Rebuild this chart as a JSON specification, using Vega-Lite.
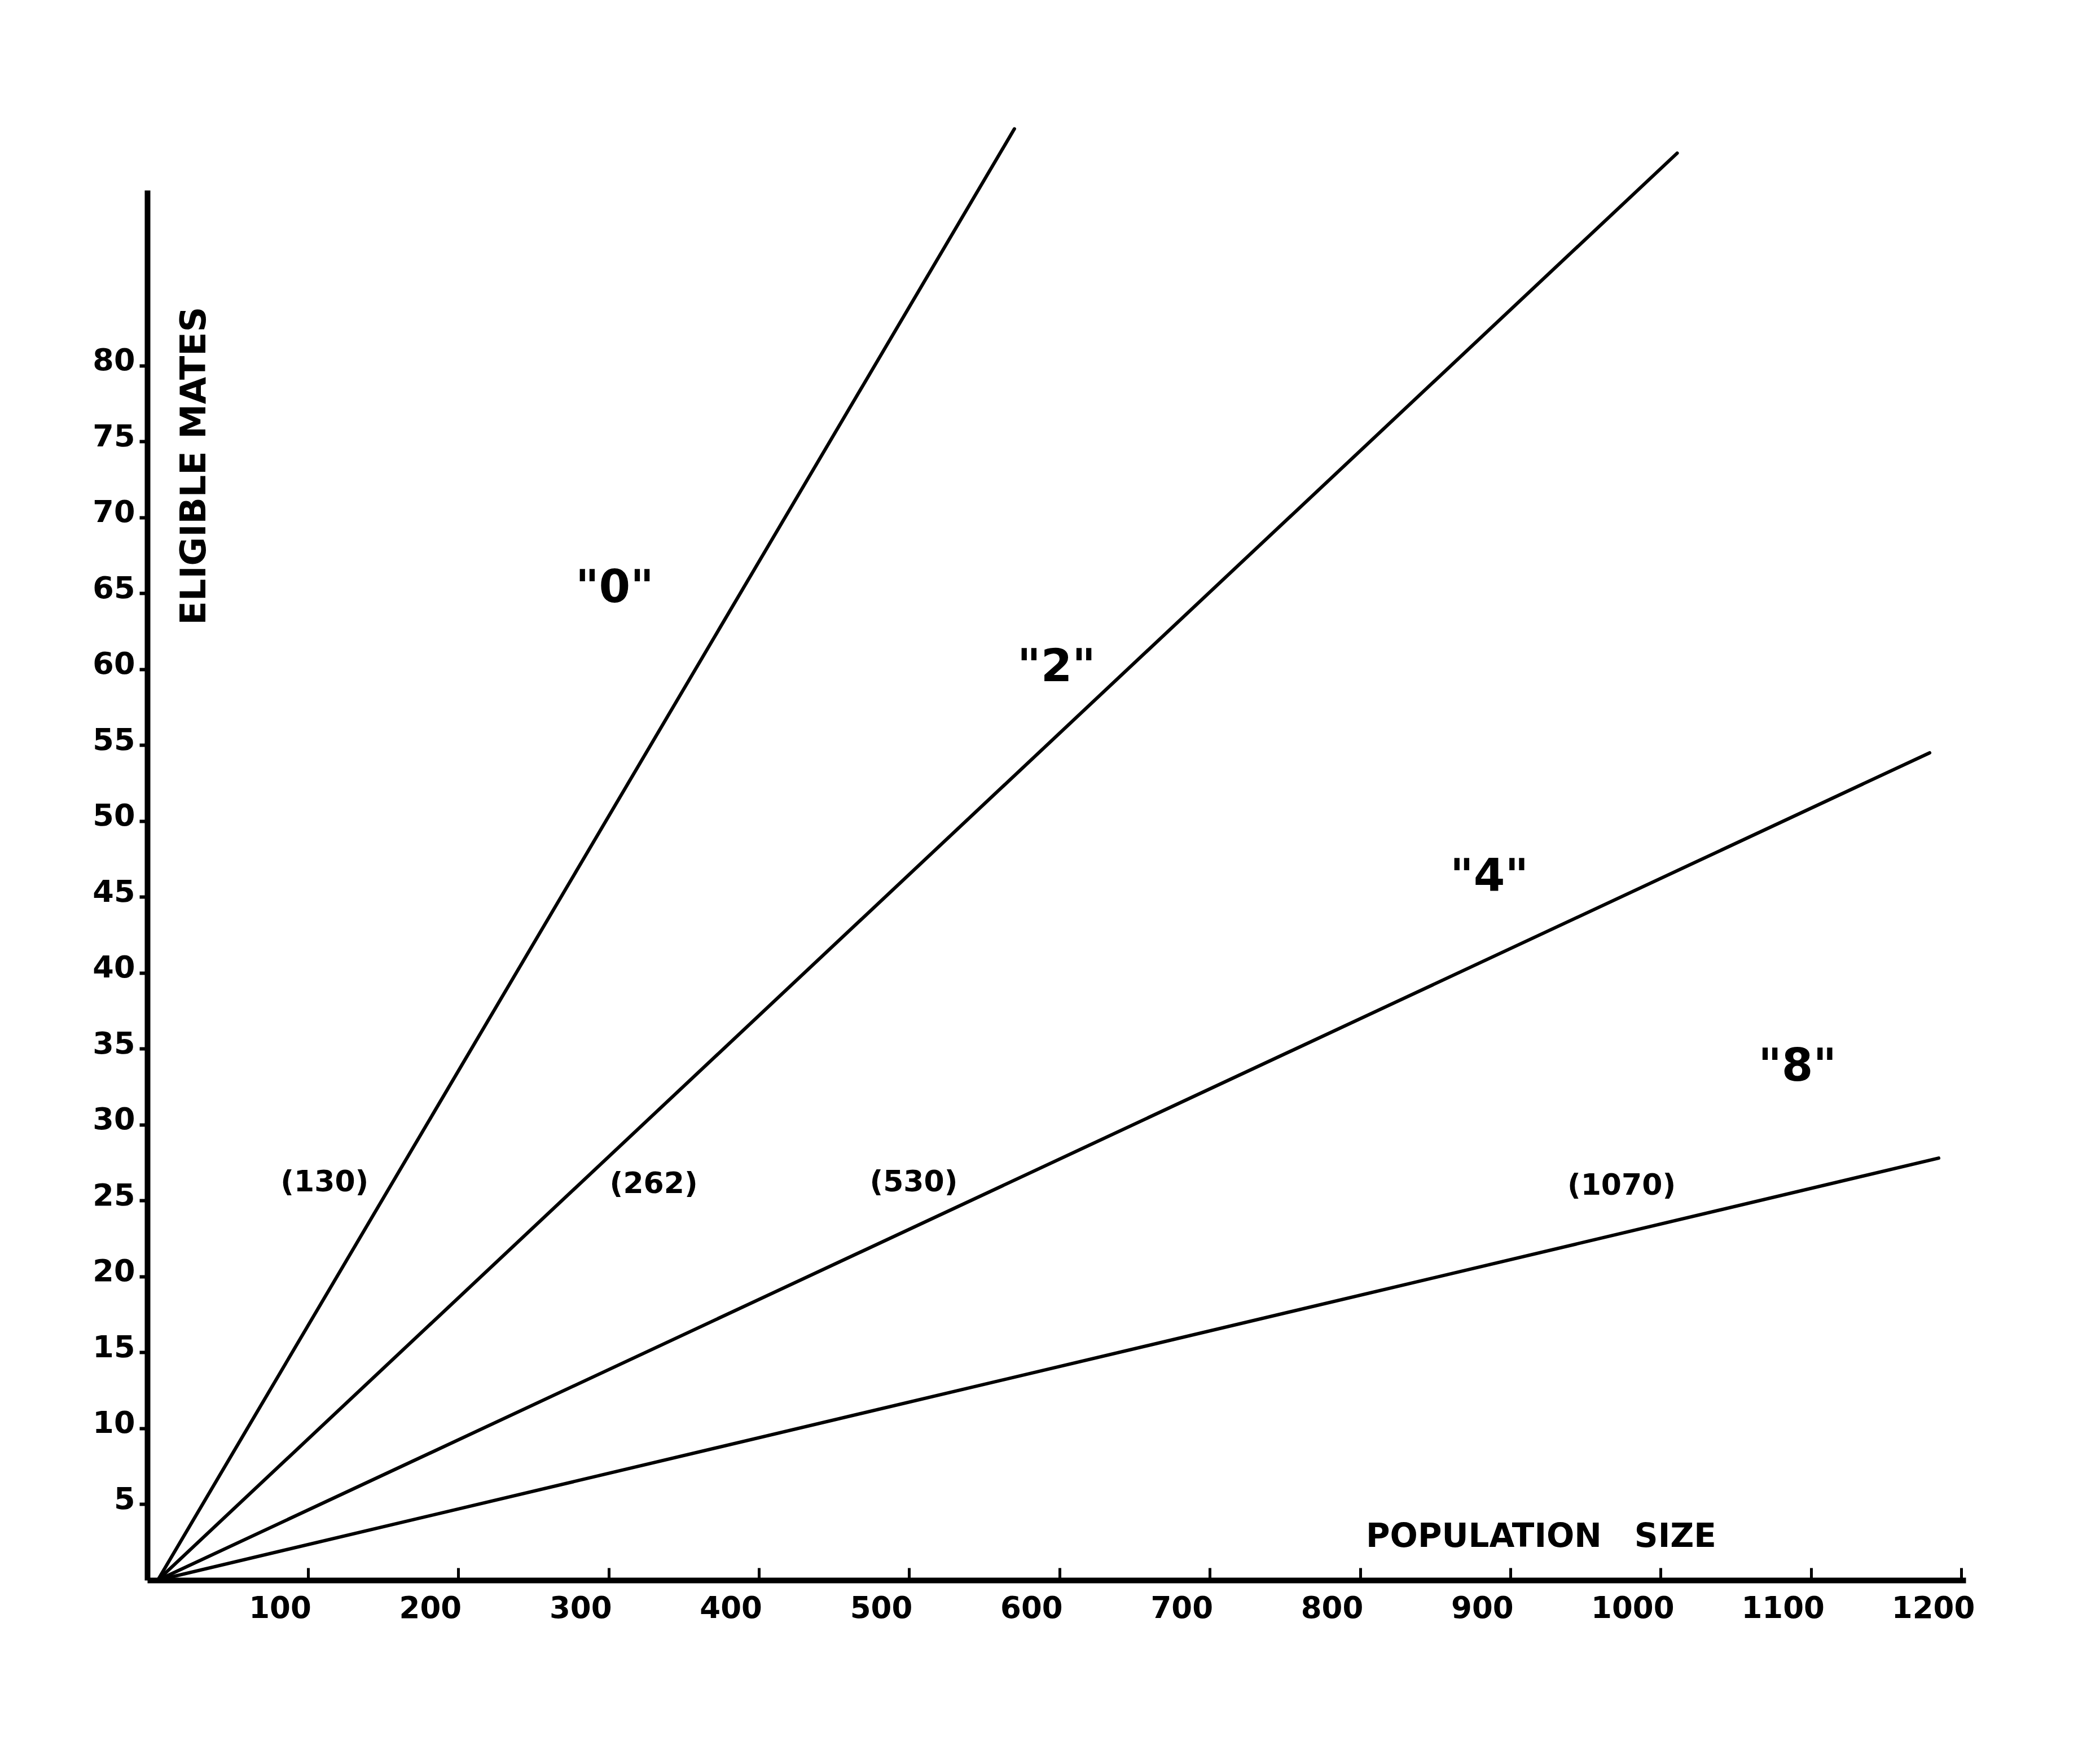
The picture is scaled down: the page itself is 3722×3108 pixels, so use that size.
{
  "$schema": "https://vega.github.io/schema/vega-lite/v6.json",
  "width": 3223,
  "height": 2463,
  "autosize": "none",
  "padding": {"left": 261, "top": 337, "right": 238, "bottom": 308},
  "background": "white",
  "config": {"view": {"stroke": null}, "font": "DejaVu Sans"},
  "datasets": {
    "lines": [
      {"series": "0", "population": 0, "mates": 0},
      {"series": "0", "population": 570, "mates": 95.6},
      {"series": "2", "population": 0, "mates": 0},
      {"series": "2", "population": 1011, "mates": 94.0},
      {"series": "4", "population": 0, "mates": 0},
      {"series": "4", "population": 1179, "mates": 54.5},
      {"series": "8", "population": 0, "mates": 0},
      {"series": "8", "population": 1185, "mates": 27.8}
    ],
    "curveLabels": [
      {"label": "\"0\"", "population": 304, "mates": 65.3},
      {"label": "\"2\"", "population": 598, "mates": 60.1},
      {"label": "\"4\"", "population": 886, "mates": 46.3},
      {"label": "\"8\"", "population": 1091, "mates": 33.8}
    ],
    "crossLabels": [
      {"label": "(130)", "population": 111, "mates": 26.2},
      {"label": "(262)", "population": 330, "mates": 26.1},
      {"label": "(530)", "population": 503, "mates": 26.2},
      {"label": "(1070)", "population": 974, "mates": 26.0}
    ]
  },
  "layer": [
    {
      "data": {"name": "lines"},
      "mark": {"type": "line", "color": "black", "clip": false, "strokeCap": "round"},
      "encoding": {
        "x": {
          "field": "population",
          "type": "quantitative",
          "scale": {"domain": [-7, 1203], "nice": false, "zero": false},
          "axis": {
            "values": [100, 200, 300, 400, 500, 600, 700, 800, 900, 1000, 1100, 1200],
            "format": "d",
            "grid": false,
            "domainColor": "black",
            "domainWidth": 10,
            "tickColor": "black",
            "tickWidth": 5,
            "tickSize": -22,
            "labelPadding": 46,
            "labelOffset": -50,
            "labelFont": "DejaVu Sans",
            "labelFontWeight": "bold",
            "labelFontSize": 53,
            "labelColor": "black",
            "labelFlush": false,
            "labelOverlap": false,
            "title": "POPULATION\u2003SIZE",
            "titleX": 2470,
            "titleY": -77,
            "titleAlign": "center",
            "titleBaseline": "middle",
            "titleFont": "DejaVu Sans",
            "titleFontSize": 58,
            "titleFontWeight": "bold",
            "titleColor": "black"
          }
        },
        "y": {
          "field": "mates",
          "type": "quantitative",
          "scale": {"domain": [0, 91.56], "nice": false, "zero": false},
          "axis": {
            "values": [5, 10, 15, 20, 25, 30, 35, 40, 45, 50, 55, 60, 65, 70, 75, 80],
            "grid": false,
            "domainColor": "black",
            "domainWidth": 10,
            "tickColor": "black",
            "tickWidth": 6,
            "tickSize": 14,
            "labelPadding": 8,
            "labelOffset": -8,
            "labelFont": "DejaVu Sans",
            "labelFontWeight": "bold",
            "labelFontSize": 54,
            "labelColor": "black",
            "labelFlush": false,
            "labelOverlap": false,
            "title": "ELIGIBLE MATES",
            "titleAngle": 270,
            "titleX": 83,
            "titleY": 488,
            "titleAlign": "center",
            "titleBaseline": "middle",
            "titleFont": "DejaVu Sans",
            "titleFontSize": 62,
            "titleFontWeight": "bold",
            "titleColor": "black"
          }
        },
        "detail": {"field": "series", "type": "nominal"},
        "strokeWidth": {
          "field": "series",
          "type": "nominal",
          "scale": {"domain": ["0", "2", "4", "8"], "range": [6, 6, 11, 8]},
          "legend": null
        }
      }
    },
    {
      "data": {"name": "curveLabels"},
      "mark": {"type": "text", "font": "DejaVu Sans", "fontWeight": "bold", "fontSize": 80, "color": "black", "align": "center", "baseline": "middle"},
      "encoding": {
        "x": {"field": "population", "type": "quantitative"},
        "y": {"field": "mates", "type": "quantitative"},
        "text": {"field": "label", "type": "nominal"}
      }
    },
    {
      "data": {"name": "crossLabels"},
      "mark": {"type": "text", "font": "DejaVu Sans", "fontWeight": "bold", "fontSize": 52, "color": "black", "align": "center", "baseline": "middle"},
      "encoding": {
        "x": {"field": "population", "type": "quantitative"},
        "y": {"field": "mates", "type": "quantitative"},
        "text": {"field": "label", "type": "nominal"}
      }
    }
  ]
}
